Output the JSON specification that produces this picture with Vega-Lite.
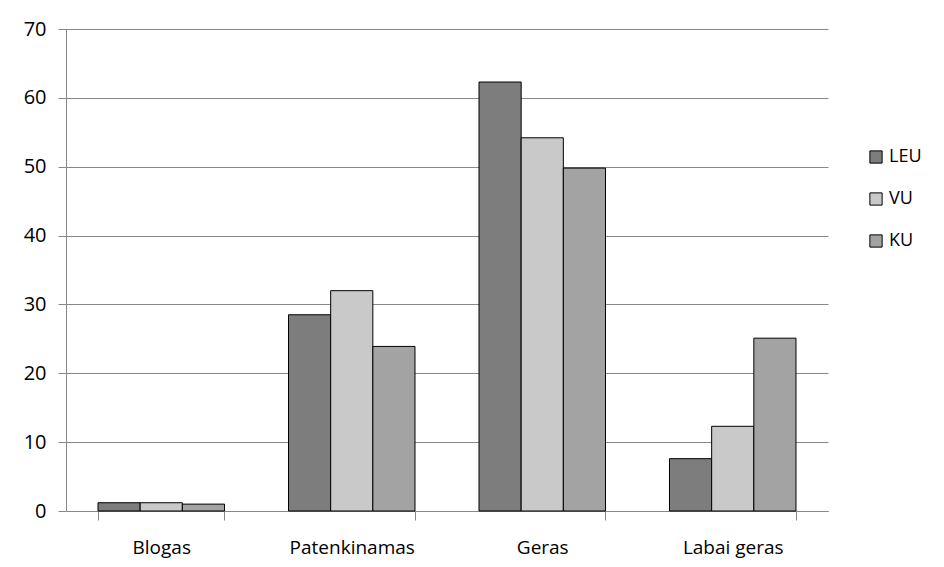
{
  "$schema": "https://vega.github.io/schema/vega-lite/v6.json",
  "autosize": {"type": "none"},
  "padding": {"left": 66, "top": 29, "right": 116, "bottom": 56},
  "width": 762,
  "height": 482,
  "background": "white",
  "config": {
    "font": "Open Sans",
    "view": {"stroke": null}
  },
  "data": {
    "values": [
      {"kategorija": "Blogas", "grupe": "LEU", "reiksme": 1.2},
      {"kategorija": "Blogas", "grupe": "VU", "reiksme": 1.2},
      {"kategorija": "Blogas", "grupe": "KU", "reiksme": 1.0},
      {"kategorija": "Patenkinamas", "grupe": "LEU", "reiksme": 28.5},
      {"kategorija": "Patenkinamas", "grupe": "VU", "reiksme": 32.0},
      {"kategorija": "Patenkinamas", "grupe": "KU", "reiksme": 23.9},
      {"kategorija": "Geras", "grupe": "LEU", "reiksme": 62.3},
      {"kategorija": "Geras", "grupe": "VU", "reiksme": 54.2},
      {"kategorija": "Geras", "grupe": "KU", "reiksme": 49.8},
      {"kategorija": "Labai geras", "grupe": "LEU", "reiksme": 7.6},
      {"kategorija": "Labai geras", "grupe": "VU", "reiksme": 12.3},
      {"kategorija": "Labai geras", "grupe": "KU", "reiksme": 25.1}
    ]
  },
  "mark": {"type": "bar", "stroke": "#000000", "strokeWidth": 1},
  "encoding": {
    "x": {
      "field": "kategorija",
      "type": "nominal",
      "sort": ["Blogas", "Patenkinamas", "Geras", "Labai geras"],
      "scale": {"paddingInner": 0.336, "paddingOuter": 0.168},
      "axis": {
        "title": null,
        "labelAngle": 0,
        "labelFontSize": 19,
        "labelColor": "#000000",
        "labelPadding": 18,
        "tickBand": "extent",
        "tickSize": 9,
        "tickColor": "#888888",
        "domainColor": "#888888",
        "grid": false
      }
    },
    "xOffset": {
      "field": "grupe",
      "type": "nominal",
      "sort": ["LEU", "VU", "KU"],
      "scale": {"paddingInner": 0, "paddingOuter": 0}
    },
    "y": {
      "field": "reiksme",
      "type": "quantitative",
      "scale": {"domain": [0, 70], "nice": false},
      "axis": {
        "title": null,
        "values": [0, 10, 20, 30, 40, 50, 60, 70],
        "labelFontSize": 20,
        "labelColor": "#000000",
        "labelPadding": 12,
        "tickSize": 8,
        "tickColor": "#888888",
        "domainColor": "#888888",
        "gridColor": "#888888",
        "gridOpacity": 1
      }
    },
    "fill": {
      "field": "grupe",
      "type": "nominal",
      "sort": ["LEU", "VU", "KU"],
      "scale": {"domain": ["LEU", "VU", "KU"], "range": ["#7d7d7d", "#c9c9c9", "#a3a3a3"]},
      "legend": {
        "title": null,
        "orient": "none",
        "legendX": 801,
        "legendY": 119,
        "symbolType": "square",
        "symbolSize": 150,
        "symbolStrokeColor": "#000000",
        "symbolStrokeWidth": 1,
        "labelFontSize": 18,
        "labelColor": "#000000",
        "labelOffset": 4,
        "rowPadding": 24
      }
    }
  }
}
